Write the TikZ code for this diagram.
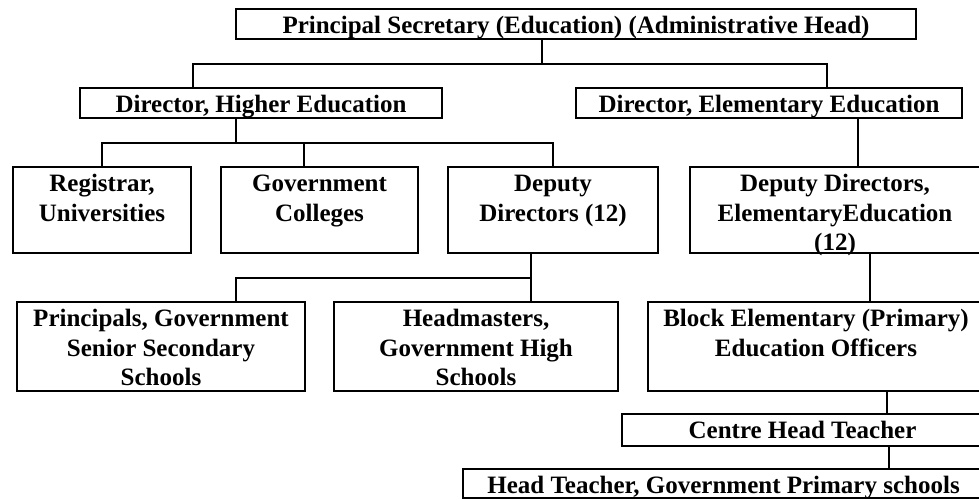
\documentclass[tikz,border=0pt]{standalone}
\usepackage{fontspec}
\setmainfont{Liberation Serif}
\newcommand\bxt[3]{\parbox[t][#2pt][t]{#1pt}{\centering\rule{0pt}{24.5pt}#3}}
\begin{document}
\begin{tikzpicture}[x=1pt,y=-1pt,
  box/.style={draw, line width=1.8pt, inner sep=0pt, outer sep=0pt, anchor=north west, font=\fontsize{25}{29.5}\selectfont\bfseries},
  conn/.style={line width=1.8pt}]
\clip (0,0) rectangle (979,500);
\fill[white] (0,0) rectangle (979,500);
% boxes
\node[box] (top) at (236,9)  {\bxt{680}{30}{Principal Secretary (Education) (Administrative Head)}};
\node[box] (dh)  at (80,88)  {\bxt{362}{30}{Director, Higher Education}};
\node[box] (de)  at (576,88) {\bxt{386}{30}{Director, Elementary Education}};
\node[box] (reg) at (13,167)  {\bxt{178}{86}{Registrar,\\Universities}};
\node[box] (gc)  at (221,167) {\bxt{197}{86}{Government\\Colleges}};
\node[box] (dd)  at (448,167) {\bxt{210}{86}{Deputy\\Directors (12)}};
\node[box] (dde) at (690,167) {\bxt{290}{86}{Deputy Directors,\\ElementaryEducation\\(12)}};
\node[box] (pr)  at (17,302)  {\bxt{288}{89}{Principals, Government\\Senior Secondary\\Schools}};
\node[box] (hm)  at (334,302) {\bxt{284}{89}{Headmasters,\\Government High\\Schools}};
\node[box] (beo) at (648,302) {\bxt{336}{89}{Block Elementary (Primary)\\Education Officers}};
\node[box] (cht) at (622,414) {\bxt{361}{32}{Centre Head Teacher}};
\node[box] (ht)  at (463,469) {\bxt{521}{29}{Head Teacher, Government Primary schools}};
% junction coordinates
\coordinate (j1) at (542,64);
\coordinate (b1l) at (193,64);
\coordinate (b1r) at (827,64);
\coordinate (b2) at (236,143);
\coordinate (g2) at (304,143);
\coordinate (v1) at (858,0);
\coordinate (b3) at (531,278);
\coordinate (b3l) at (236,278);
\coordinate (v2) at (870,0);
\coordinate (v3) at (887,0);
\coordinate (v4) at (889,0);
% connectors
\draw[conn] (top.south -| j1) -- (j1);
\draw[conn] (dh.north -| b1l) -- (b1l) -- (b1r) -- (de.north -| b1r);
\draw[conn] (dh.south -| b2) -- (b2);
\draw[conn] (reg.north) |- (dd.north |- b2) -- (dd.north);
\draw[conn] (g2) -- (gc.north -| g2);
\draw[conn] (de.south -| v1) -- (dde.north -| v1);
\draw[conn] (dd.south -| b3) -- (hm.north -| b3);
\draw[conn] (b3) -- (b3l) -- (pr.north -| b3l);
\draw[conn] (dde.south -| v2) -- (beo.north -| v2);
\draw[conn] (beo.south -| v3) -- (cht.north -| v3);
\draw[conn] (cht.south -| v4) -- (ht.north -| v4);
\end{tikzpicture}
\end{document}
